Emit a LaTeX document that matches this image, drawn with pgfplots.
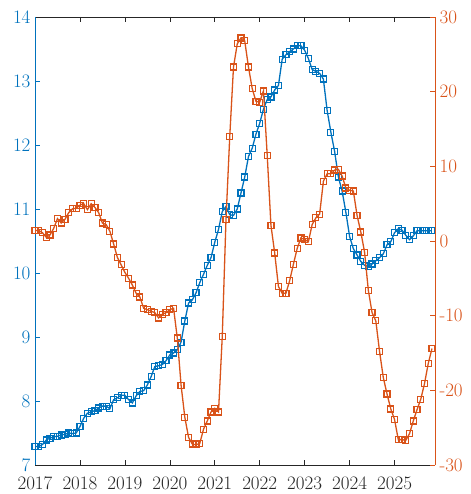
\documentclass[border=0pt]{standalone}
\usepackage{pgfplots}
\usepackage{pgfplotstable}
\pgfplotsset{compat=1.18}
\definecolor{mblue}{RGB}{0,114,189}
\definecolor{morange}{RGB}{217,83,25}
\definecolor{axgray}{RGB}{38,38,38}
\pgfplotstableread{
m b o
0 7.29 1.4
1 7.29 1.4
2 7.32 1.1
3 7.39 0.5
4 7.42 0.8
5 7.44 1.7
6 7.45 3.0
7 7.47 2.4
8 7.48 2.9
9 7.50 3.8
10 7.49 4.3
11 7.50 4.4
12 7.60 4.8
13 7.73 5.0
14 7.81 4.2
15 7.83 5.0
16 7.85 4.5
17 7.89 3.8
18 7.92 2.4
19 7.92 2.2
20 7.88 1.3
21 8.02 -0.4
22 8.05 -2.2
23 8.09 -3.2
24 8.09 -4.2
25 8.02 -5.0
26 7.97 -5.9
27 8.08 -7.0
28 8.15 -7.5
29 8.16 -9.0
30 8.25 -9.2
31 8.38 -9.4
32 8.54 -9.6
33 8.55 -10.3
34 8.57 -9.8
35 8.63 -9.6
36 8.72 -9.2
37 8.75 -9.0
38 8.80 -13.0
39 8.92 -19.3
40 9.25 -23.6
41 9.53 -26.3
42 9.58 -27.2
43 9.69 -27.3
44 9.85 -27.1
45 9.98 -25.2
46 10.12 -24.1
47 10.24 -22.9
48 10.48 -22.4
49 10.68 -22.9
50 10.96 -12.8
51 11.04 2.9
52 10.91 14.0
53 10.90 23.3
54 11.00 26.4
55 11.25 27.2
56 11.50 26.8
57 11.82 23.3
58 11.95 20.4
59 12.17 18.7
60 12.34 18.6
61 12.56 20.1
62 12.71 11.5
63 12.75 2.1
64 12.86 -1.6
65 12.93 -6.1
66 13.34 -7.0
67 13.41 -7.0
68 13.46 -5.3
69 13.50 -3.1
70 13.55 -1.0
71 13.55 0.4
72 13.48 0.2
73 13.35 -0.1
74 13.18 2.2
75 13.15 3.1
76 13.12 3.6
77 13.03 8.0
78 12.54 9.0
79 12.20 9.0
80 11.90 9.5
81 11.50 9.6
82 11.28 8.7
83 10.95 7.1
84 10.57 6.8
85 10.38 6.7
86 10.28 3.4
87 10.18 1.2
88 10.12 -1.5
89 10.10 -6.6
90 10.14 -9.6
91 10.19 -10.7
92 10.24 -14.8
93 10.30 -18.3
94 10.44 -20.5
95 10.49 -22.5
96 10.63 -23.9
97 10.69 -26.6
98 10.67 -26.6
99 10.59 -26.7
100 10.52 -25.8
101 10.58 -24.1
102 10.66 -22.6
103 10.66 -21.2
104 10.66 -19.1
105 10.66 -16.4
106 10.66 -14.4
}\datatable
\begin{document}
\begin{tikzpicture}
\pgfplotsset{
  common/.style={
    at={(0,0)}, anchor=south west,
    scale only axis, width=400pt, height=448pt,
    xmin=2017, xmax=2025.9,
    clip=false,
    tick align=inside,
    major tick length=5pt,
    tick label style={font=\fontsize{19}{21}\selectfont},
  },
}
\begin{axis}[common,
  ymin=7, ymax=14,
  axis x line*=box,
  axis y line*=left,
  xtick={2017,2018,2019,2020,2021,2022,2023,2024,2025},
  xticklabels={2017,2018,2019,2020,2021,2022,2023,2024,2025},
  xtick pos=both,
  ytick={7,8,9,10,11,12,13,14},
  yticklabels={7,8,9,10,11,12,13,14},
  x axis line style={axgray, line width=0.6pt},
  y axis line style={mblue, line width=0.6pt},
  xtick style={axgray, line width=0.6pt},
  ytick style={mblue, line width=0.6pt},
  xticklabel style={text=axgray, yshift=-8pt},
  yticklabel style={text=mblue, xshift=-1pt},
]
\addplot[mblue, line width=1.3pt, mark=square, mark size=3pt,
  mark options={solid, line width=1.2pt}]
  table[x expr=2017+\thisrow{m}/12, y=b] {\datatable};
\end{axis}
\begin{axis}[common,
  ymin=-30, ymax=30,
  axis x line=none,
  axis y line*=right,
  ytick={-30,-20,-10,0,10,20,30},
  yticklabels={-30,-20,-10,0,10,20,30},
  y axis line style={morange, line width=0.6pt},
  ytick style={morange, line width=0.6pt},
  yticklabel style={text=morange, xshift=1pt},
]
\addplot[morange, line width=1.3pt, mark=square, mark size=3pt,
  mark options={solid, line width=1.2pt}]
  table[x expr=2017+\thisrow{m}/12, y=o] {\datatable};
\end{axis}
\pgfresetboundingbox
\path[use as bounding box] (-35pt,-29pt) rectangle (435pt,465pt);
\end{tikzpicture}
\end{document}
